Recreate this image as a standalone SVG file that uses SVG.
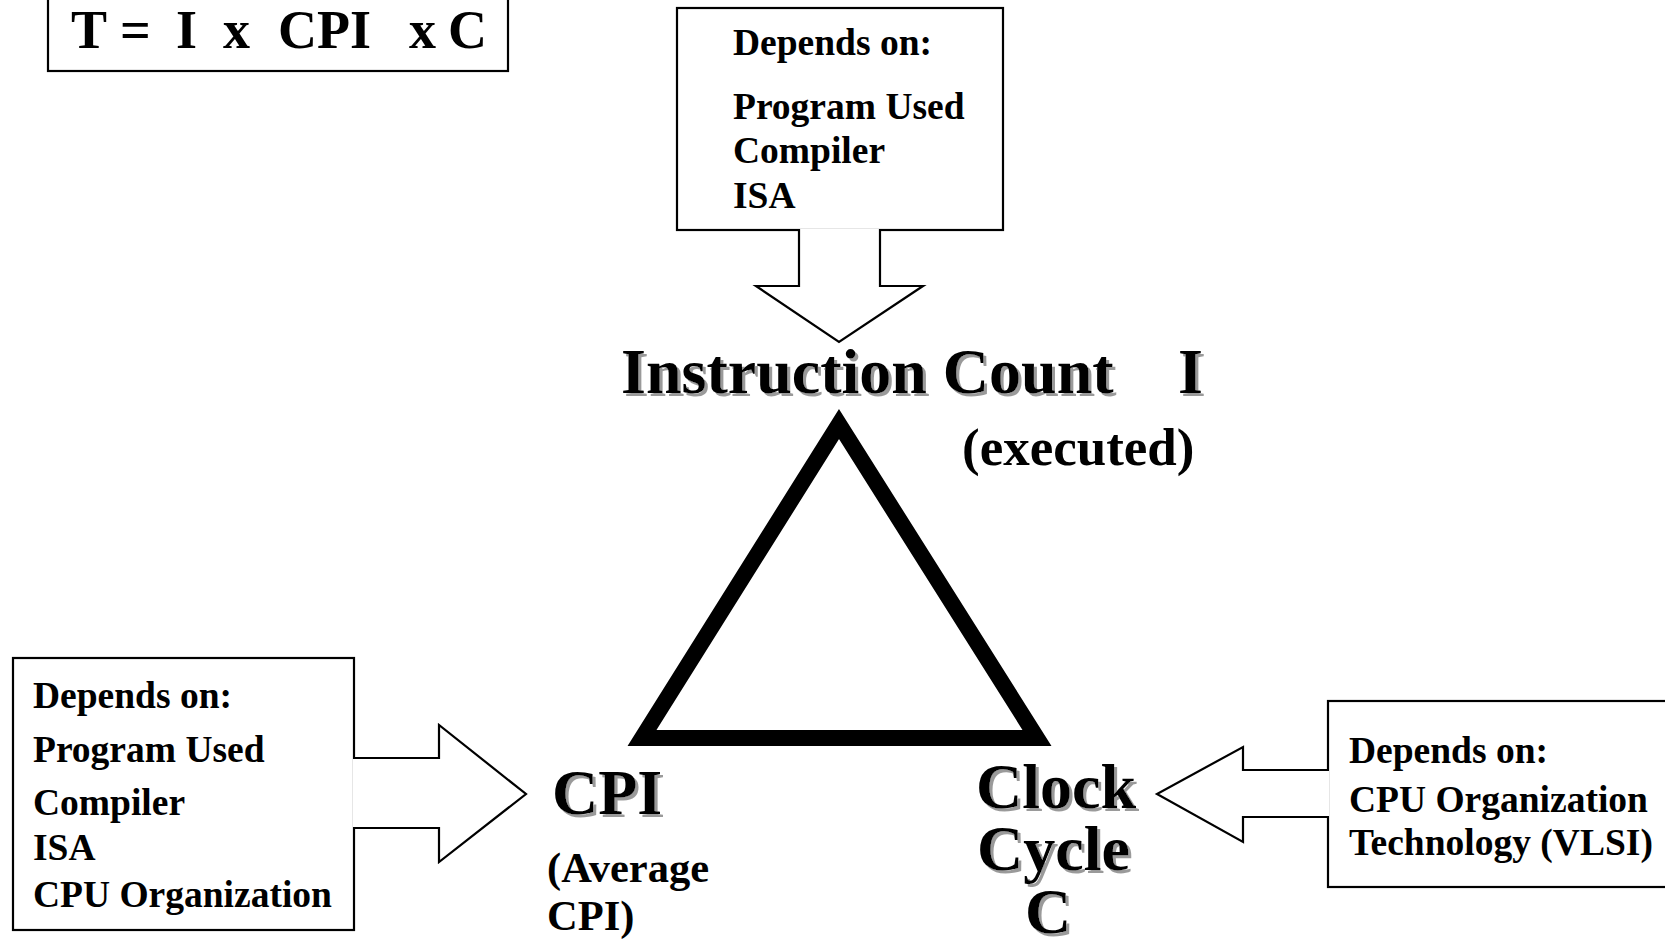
<svg xmlns="http://www.w3.org/2000/svg" width="1665" height="940" viewBox="0 0 1665 940">
<defs>
<style>
.t{font-family:"Liberation Serif","Times New Roman",serif;font-weight:bold;fill:#000}
.box{fill:#fff;stroke:#000;stroke-width:2.2}
.arr{fill:#fff;stroke:#000;stroke-width:2.2;stroke-linejoin:miter}
.dep{font-size:37.5px}
.big{font-size:64px;filter:url(#sh)}
</style>
<filter id="sh" x="-5%" y="-10%" width="115%" height="130%">
<feDropShadow dx="3" dy="3" stdDeviation="0.6" flood-color="#9a9a9a" flood-opacity="1"/>
</filter>
</defs>
<rect width="1665" height="940" fill="#fff"/>

<g id="formula">
<rect class="box" x="48" y="-4" width="460" height="75"/>
<text class="t" font-size="54" y="48"><tspan x="71">T</tspan><tspan x="120">=</tspan><tspan x="176">I</tspan><tspan x="223">x</tspan><tspan x="278">CPI</tspan><tspan x="409">x</tspan><tspan x="448">C</tspan></text>
</g>

<g id="box-instruction">
<rect class="box" x="677" y="8" width="326" height="222"/>
<text class="t dep" x="733" y="55">Depends on:</text>
<text class="t dep" x="733" y="119">Program Used</text>
<text class="t dep" x="733" y="163">Compiler</text>
<text class="t dep" x="733" y="208">ISA</text>
</g>

<g id="box-cpi">
<rect class="box" x="13" y="658" width="341" height="272"/>
<text class="t dep" x="33" y="708">Depends on:</text>
<text class="t dep" x="33" y="762">Program Used</text>
<text class="t dep" x="33" y="815">Compiler</text>
<text class="t dep" x="33" y="860">ISA</text>
<text class="t dep" x="33" y="907">CPU Organization</text>
</g>

<g id="box-clock">
<rect class="box" x="1328" y="701" width="360" height="186"/>
<text class="t dep" x="1349" y="763">Depends on:</text>
<text class="t dep" x="1349" y="812">CPU Organization</text>
<text class="t dep" x="1349" y="855">Technology (VLSI)</text>
</g>

<g id="triangle">
<polygon points="839,424 642,738 1037,738" fill="none" stroke="#000" stroke-width="16" stroke-linejoin="miter"/>
</g>

<g id="node-instruction-count">
<text class="t big" y="393"><tspan x="621">Instruction Count</tspan><tspan x="1178">I</tspan></text>
<text class="t" font-size="53" x="962" y="465">(executed)</text>
</g>

<g id="node-cpi">
<text class="t big" x="552" y="814">CPI</text>
<text class="t" font-size="42.5" x="547" y="882">(Average</text>
<text class="t" font-size="42.5" x="547" y="930">CPI)</text>
</g>

<g id="node-clock">
<text class="t big" x="976" y="808"><tspan x="976">Clock</tspan><tspan x="977" y="870">Cycle</tspan><tspan x="1025" y="933">C</tspan></text>
</g>

<g id="connectors">
<path class="arr" d="M799,229 L799,286 L756,286 L839,342 L923,286 L880,286 L880,229"/>
<path class="arr" d="M353,758 L439,758 L439,725 L526,794 L439,862 L439,828 L353,828"/>
<path class="arr" d="M1329,770 L1243,770 L1243,747 L1157,794 L1243,842 L1243,817 L1329,817"/>
</g>
</svg>
